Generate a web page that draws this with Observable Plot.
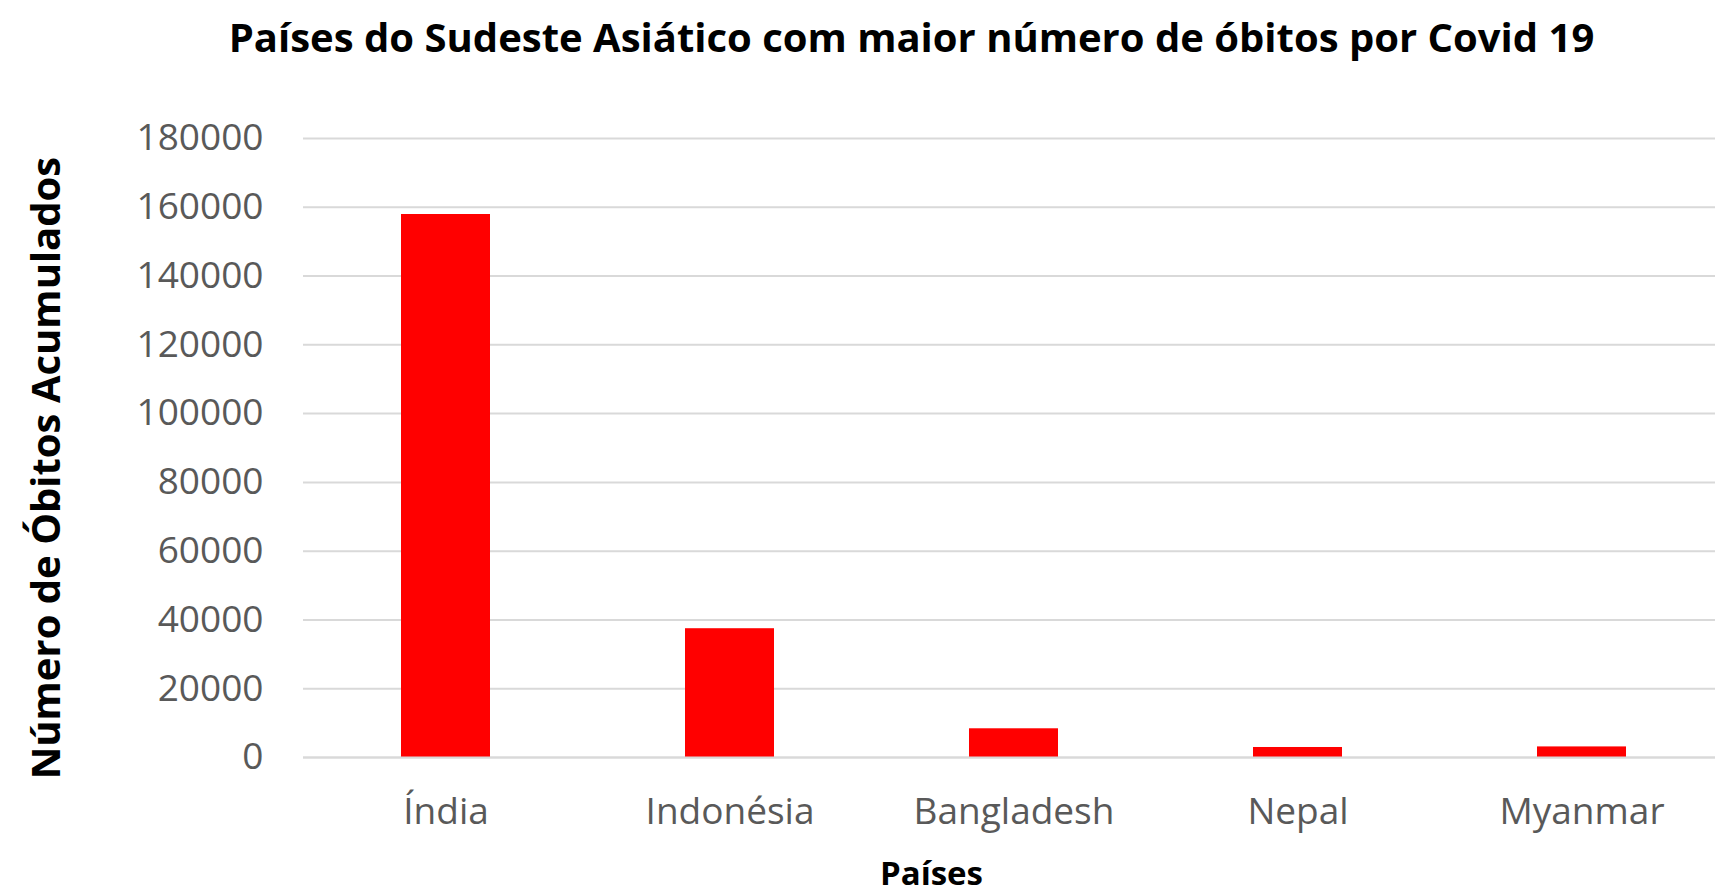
<!DOCTYPE html>
<html><head><meta charset="utf-8">
<script src="https://cdn.jsdelivr.net/npm/d3@7"></script>
<script src="https://cdn.jsdelivr.net/npm/@observablehq/plot@0.6"></script>
<style>body{margin:0;background:#fff;overflow:hidden}</style>
</head><body><div id="chart"></div>
<script>
const countries = ["Índia", "Indonésia", "Bangladesh", "Nepal", "Myanmar"];
const deaths = [157900, 37450, 8350, 2910, 3080];
const yTicks = [0, 20000, 40000, 60000, 80000, 100000, 120000, 140000, 160000, 180000];
const title = "Países do Sudeste Asiático com maior número de óbitos por Covid 19";
const xTitle = "Países";
const yTitle = "Número de Óbitos Acumulados";

const data = countries.map((c, i) => ({country: c, value: deaths[i]}));
const font = "'Open Sans', sans-serif";

const chart = Plot.plot({
  width: 1715, height: 895,
  marginLeft: 303, marginRight: -10, marginTop: 138, marginBottom: 138,
  style: {fontFamily: font, background: "#fff"},
  x: {domain: countries, paddingInner: 0.685, paddingOuter: 0.3425, label: null},
  y: {domain: [0, 180000], label: null},
  marks: [
    Plot.gridY(yTicks, {stroke: "#d9d9d9", strokeOpacity: 1, strokeWidth: 2}),
    Plot.barY(data, {x: "country", y: "value", fill: "#ff0000"}),
    Plot.ruleY([0], {stroke: "#d9d9d9", strokeWidth: 2}),
    Plot.axisY({ticks: yTicks, tickSize: 0, tickPadding: 40, fontSize: 37, fill: "#595959", tickFormat: d => String(d), label: null}),
    Plot.axisX({tickSize: 0, tickPadding: 40, fontSize: 37, fill: "#595959", label: null}),
    Plot.text([title], {frameAnchor: "top", dx: -103, dy: -115, fontSize: 40, fontWeight: "bold", fill: "#000"}),
    Plot.text([xTitle], {frameAnchor: "bottom", dx: -83, dy: 127, fontSize: 33, fontWeight: "bold", fill: "#000"}),
    Plot.text([yTitle], {frameAnchor: "left", textAnchor: "middle", dx: -256, dy: 20, rotate: -90, fontSize: 40, fontWeight: "bold", fill: "#000"})
  ]
});
document.getElementById("chart").appendChild(chart);
</script></body></html>
